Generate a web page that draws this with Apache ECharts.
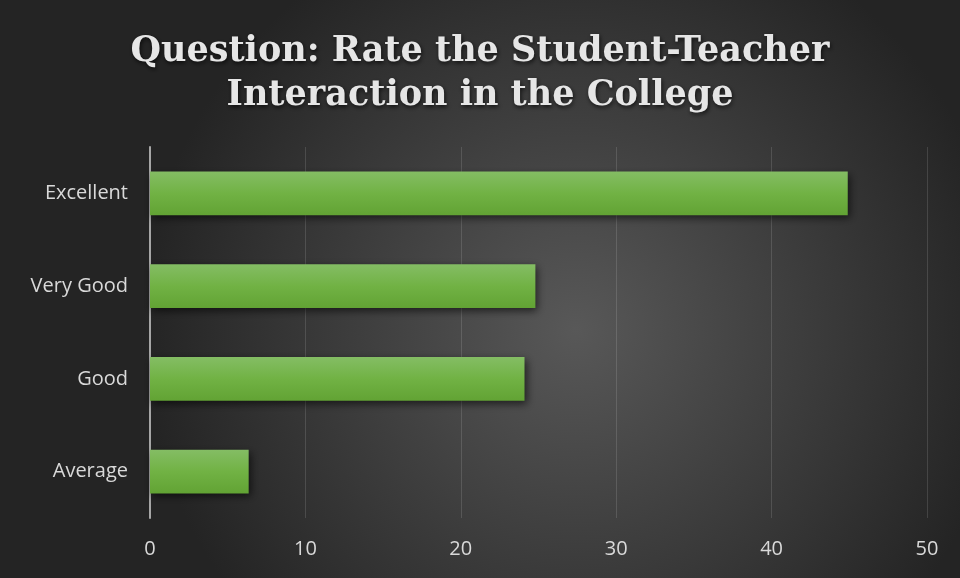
<!DOCTYPE html>
<html>
<head>
<meta charset="utf-8">
<script src="https://cdn.jsdelivr.net/npm/echarts@6/dist/echarts.min.js"></script>
<style>
  html, body { margin: 0; padding: 0; background: #333; }
  #chart { width: 960px; height: 578px; }
</style>
</head>
<body>
<div id="chart"></div>
<script>
  // data
  var categories = ["Average", "Good", "Very Good", "Excellent"];
  var responses = [6.35, 24.1, 24.8, 44.9];
  var xTicks = [0, 10, 20, 30, 40, 50];

  var chart = echarts.init(document.getElementById("chart"));

  chart.setOption({
    backgroundColor: {
      type: "radial",
      x: 0.6,
      y: 0.57,
      r: 0.75,
      colorStops: [
        { offset: 0, color: "#585858" },
        { offset: 1, color: "#242424" },
      ],
    },
    title: {
      text: "Question: Rate the Student-Teacher\nInteraction in the College",
      left: "center",
      top: 25,
      textStyle: {
        fontFamily: "DejaVu Serif",
        fontWeight: "bold",
        fontSize: 35,
        lineHeight: 44,
        color: "#e6e6e6",
        textShadowColor: "rgba(0,0,0,0.7)",
        textShadowBlur: 4,
        textShadowOffsetX: 1,
        textShadowOffsetY: 2,
      },
    },
    grid: {
      left: 150,
      right: 33,
      top: 147,
      bottom: 60,
    },
    xAxis: {
      type: "value",
      min: xTicks[0],
      max: xTicks[xTicks.length - 1],
      interval: 10,
      axisLine: { show: false },
      axisTick: { show: false },
      axisLabel: {
        color: "#d9d9d9",
        fontFamily: "Open Sans",
        fontSize: 20,
        margin: 21,
      },
      splitLine: {
        lineStyle: { color: "rgba(255,255,255,0.13)", width: 1 },
      },
    },
    yAxis: {
      type: "category",
      data: categories,
      axisLine: {
        lineStyle: { color: "#a6a6a6", width: 2 },
      },
      axisTick: { show: false },
      axisLabel: {
        color: "#d9d9d9",
        fontFamily: "Open Sans",
        fontSize: 20,
        margin: 22,
      },
    },
    series: [
      {
        type: "bar",
        data: responses,
        barCategoryGap: "53%",
        itemStyle: {
          color: {
            type: "linear",
            x: 0,
            y: 0,
            x2: 0,
            y2: 1,
            colorStops: [
              { offset: 0, color: "#84bd64" },
              { offset: 0.5, color: "#71b244" },
              { offset: 1, color: "#62a334" },
            ],
          },
          shadowColor: "rgba(0,0,0,0.6)",
          shadowBlur: 8,
          shadowOffsetX: 2,
          shadowOffsetY: 3,
        },
        animation: false,
      },
    ],
  });
</script>
</body>
</html>
